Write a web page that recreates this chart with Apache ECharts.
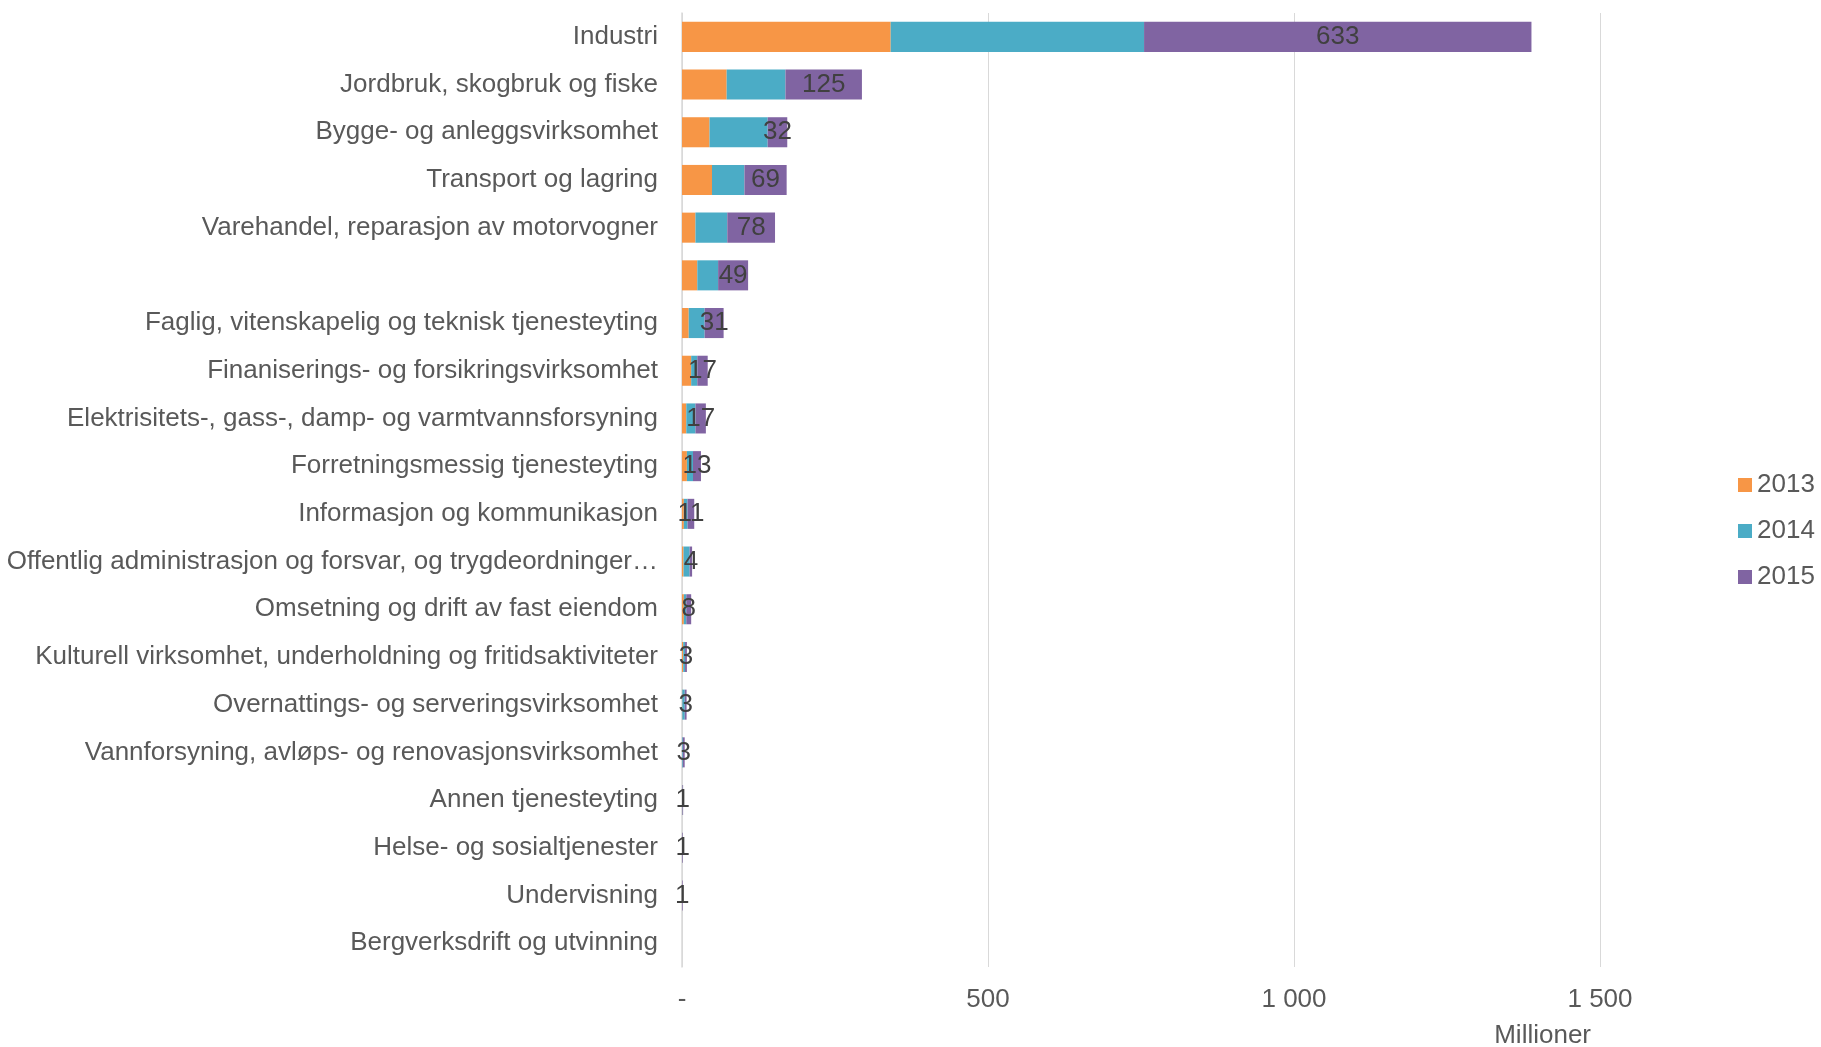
<!DOCTYPE html>
<html>
<head>
<meta charset="utf-8">
<script src="https://cdn.jsdelivr.net/npm/echarts@6/dist/echarts.min.js"></script>
<style>
html,body{margin:0;padding:0;background:#fff;}
#chart{width:1821px;height:1047px;}
</style>
</head>
<body>
<div id="chart"></div>
<script>
const categories = [
  "Industri",
  "Jordbruk, skogbruk og fiske",
  "Bygge- og anleggsvirksomhet",
  "Transport og lagring",
  "Varehandel, reparasjon av motorvogner",
  "",
  "Faglig, vitenskapelig og teknisk tjenesteyting",
  "Finaniserings- og forsikringsvirksomhet",
  "Elektrisitets-, gass-, damp- og varmtvannsforsyning",
  "Forretningsmessig tjenesteyting",
  "Informasjon og kommunikasjon",
  "Offentlig administrasjon og forsvar, og trygdeordninger\u2026",
  "Omsetning og drift av fast eiendom",
  "Kulturell virksomhet, underholdning og fritidsaktiviteter",
  "Overnattings- og serveringsvirksomhet",
  "Vannforsyning, avløps- og renovasjonsvirksomhet",
  "Annen tjenesteyting",
  "Helse- og sosialtjenester",
  "Undervisning",
  "Bergverksdrift og utvinning"
];
const values2013 = [341, 73, 45, 49, 22, 25, 11, 15, 7, 8, 3, 2.5, 3, 2, 0.5, 0.2, 0.3, 0.2, 0, null];
const values2014 = [414, 96, 95, 53, 52, 34, 26, 10, 15, 10, 6, 10, 4, 3, 4, 1.2, 0.5, 0.3, 0, null];
const values2015 = [633, 125, 32, 69, 78, 49, 31, 17, 17, 13, 11, 4, 8, 3, 3, 3, 1, 1, 1, null];
const seriesNames = ["2013", "2014", "2015"];
const xTicks = [0, 500, 1000, 1500];
const axisName = "Millioner";

const FONT = "'Liberation Sans', Arial, sans-serif";
const colors = ["#F79646", "#4BACC6", "#8064A2"];

function fmtTick(v) {
  if (v === 0) return "-";
  return String(v).replace(/\B(?=(\d{3})+(?!\d))/g, " ");
}

const chart = echarts.init(document.getElementById("chart"));
const dataSets = [values2013, values2014, values2015];
chart.setOption({
  animation: false,
  color: colors,
  textStyle: { fontFamily: FONT },
  grid: { left: 682, right: 221, top: 13, bottom: 80, containLabel: false },
  legend: {
    orient: "vertical",
    left: 1733,
    top: 467,
    itemWidth: 14,
    itemHeight: 14,
    itemGap: 20,
    icon: "rect",
    textStyle: { fontSize: 26, color: "#595959", fontFamily: FONT },
    data: seriesNames
  },
  xAxis: {
    type: "value",
    min: xTicks[0],
    max: xTicks[xTicks.length - 1],
    interval: xTicks[1] - xTicks[0],
    axisLine: { show: false },
    axisTick: { show: false },
    splitLine: { show: true, lineStyle: { color: "#D9D9D9", width: 1 } },
    axisLabel: { fontSize: 26, color: "#595959", margin: 20, formatter: fmtTick, fontFamily: FONT }
  },
  yAxis: {
    type: "category",
    inverse: true,
    data: categories,
    axisTick: { show: false },
    axisLine: { show: true, lineStyle: { color: "#D9D9D9", width: 1.5 } },
    axisLabel: { fontSize: 26, color: "#595959", margin: 24, fontFamily: FONT }
  },
  graphic: [{
    type: "text",
    right: 230,
    top: 1023,
    style: { text: axisName, fontSize: 26, fill: "#595959", fontFamily: FONT }
  }],
  series: seriesNames.map((name, i) => ({
    name: name,
    type: "bar",
    stack: "total",
    barCategoryGap: "37%",
    data: dataSets[i],
    label: i === 2 ? {
      show: true,
      position: "inside",
      color: "#404040",
      fontSize: 26,
      fontFamily: FONT,
      formatter: p => (p.value == null ? "" : String(p.value))
    } : { show: false }
  }))
});
</script>
</body>
</html>
